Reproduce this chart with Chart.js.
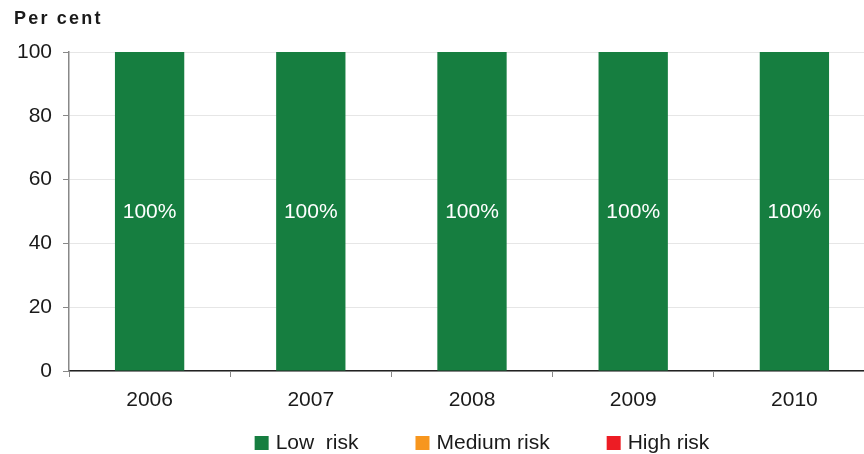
<!DOCTYPE html>
<html>
<head>
<meta charset="utf-8">
<script src="https://cdn.jsdelivr.net/npm/chart.js@4/dist/chart.umd.min.js"></script>
<style>
  html, body { margin: 0; padding: 0; background: #fff; overflow: hidden; }
  #wrap { width: 880px; height: 454px; }
</style>
</head>
<body>
<div id="wrap"><canvas id="riskChart" width="880" height="454"></canvas></div>
<script>
  // categories and series
  var years = ["2006", "2007", "2008", "2009", "2010"];
  var lowRisk = [100, 100, 100, 100, 100];
  var mediumRisk = [0, 0, 0, 0, 0];
  var highRisk = [0, 0, 0, 0, 0];
  var yTicks = [0, 20, 40, 60, 80, 100];

  var fontFamily = "'Liberation Sans', Arial, sans-serif";
  var textColor = '#1a1a1a';

  // "Per cent", white value labels inside the bars, and the legend row
  var labelPlugin = {
    id: 'labelPlugin',
    afterDatasetsDraw: function(chart) {
      var ctx = chart.ctx;
      ctx.save();
      ctx.fillStyle = '#ffffff';
      ctx.font = '21px ' + fontFamily;
      ctx.textAlign = 'center';
      ctx.textBaseline = 'middle';
      chart.data.datasets.forEach(function(ds, i) {
        var meta = chart.getDatasetMeta(i);
        meta.data.forEach(function(bar, j) {
          var v = ds.data[j];
          if (!v) return;
          ctx.fillText(v + '%', bar.x, (bar.y + bar.base) / 2 + 1);
        });
      });

      // y axis title
      ctx.fillStyle = textColor;
      ctx.font = 'bold 18px ' + fontFamily;
      ctx.textAlign = 'left';
      ctx.letterSpacing = '2.2px';
      ctx.fillText('Per cent', 14, 19);
      ctx.letterSpacing = '0px';

      // legend
      ctx.font = '21px ' + fontFamily;
      var box = 14, gap = 7, itemGap = 57, y = 443;
      var items = chart.data.datasets.map(function(ds) {
        return { text: ds.label, color: ds.backgroundColor, w: box + gap + ctx.measureText(ds.label).width };
      });
      var total = items.reduce(function(a, it) { return a + it.w; }, 0) + itemGap * (items.length - 1);
      var x = 482 - total / 2;
      items.forEach(function(it) {
        ctx.fillStyle = it.color;
        ctx.fillRect(x, y - box / 2, box, box);
        ctx.fillStyle = textColor;
        ctx.fillText(it.text, x + box + gap, y);
        x += it.w + itemGap;
      });
      ctx.restore();
    }
  };

  var ctx = document.getElementById('riskChart').getContext('2d');
  var riskChart = new Chart(ctx, {
    type: 'bar',
    data: {
      labels: years,
      datasets: [
        { label: 'Low  risk', data: lowRisk, backgroundColor: '#167e40' },
        { label: 'Medium risk', data: mediumRisk, backgroundColor: '#f7961e' },
        { label: 'High risk', data: highRisk, backgroundColor: '#ed1c24' }
      ]
    },
    options: {
      responsive: false,
      animation: false,
      categoryPercentage: 1,
      barPercentage: 0.43,
      layout: { padding: { top: 52, right: 5, left: 0, bottom: 38 } },
      plugins: {
        tooltip: { enabled: false },
        legend: { display: false }
      },
      scales: {
        x: {
          stacked: true,
          border: { color: '#222222', width: 1.5 },
          grid: { offset: true, drawOnChartArea: false, tickLength: 6, color: '#888888' },
          ticks: { color: textColor, padding: 11, font: { family: fontFamily, size: 21 } },
          afterFit: function(s) { s.height = 45; }
        },
        y: {
          stacked: true,
          min: 0,
          max: 100,
          afterBuildTicks: function(s) { s.ticks = yTicks.map(function(v) { return { value: v }; }); },
          border: { color: '#888888', width: 1.5 },
          grid: { color: '#e6e6e6', tickColor: '#888888', tickLength: 6 },
          ticks: { color: textColor, padding: 11, font: { family: fontFamily, size: 21 } },
          afterFit: function(s) { s.width = 69; }
        }
      }
    },
    plugins: [labelPlugin]
  });
</script>
</body>
</html>
